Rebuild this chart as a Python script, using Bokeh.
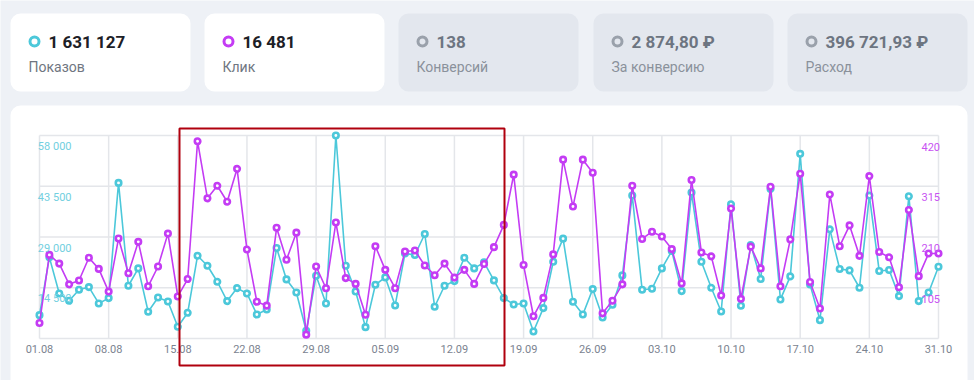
import pandas as pd
from bokeh.plotting import figure
from bokeh.models import (Range1d, LinearAxis, FixedTicker, DatetimeTickFormatter,
                          BoxAnnotation, Label, ColumnDataSource)
from bokeh.embed import file_html
from bokeh.resources import INLINE

# ---------------- data ----------------
dates = pd.date_range("2024-08-01", "2024-10-31", freq="D")

impressions = [
    6677, 23180, 12878, 10779, 13927, 14690, 10016, 11542, 44452, 15072,
    20032, 7631, 11733, 10588, 3339, 7345, 23657, 20795, 16216, 10684,
    14404, 12878, 6868, 8299, 25851, 16884, 13164, 2194, 17933, 10016,
    58000, 20795, 13450, 3243, 15358, 17456, 9444, 24324, 23848, 29857,
    9062, 15072, 16407, 23084, 20032, 21749, 16598, 11542, 9730, 10016,
    2003, 8680, 21940, 28522, 10493, 6868, 14118, 6010, 9634, 18029,
    40827, 13927, 14213, 20032, 24992, 13545, 41686, 21940, 14499, 7727,
    38347, 9348, 26709, 16979, 42735, 11161, 17743, 52751, 15453, 5246,
    31192, 19841, 19460, 14499, 40827, 19269, 19555, 12114, 40636, 10684,
    13164, 20509,
]

clicks = [
    32, 173, 155, 112, 120, 167, 144, 97, 207, 135,
    200, 108, 149, 217, 87, 123, 408, 290, 316, 283,
    351, 184, 76, 68, 229, 163, 219, 8, 149, 104,
    240, 125, 113, 49, 191, 142, 104, 180, 182, 151,
    131, 155, 126, 142, 113, 154, 189, 235, 339, 152,
    46, 84, 174, 370, 273, 370, 343, 52, 78, 112,
    316, 206, 221, 211, 185, 114, 328, 178, 170, 89,
    269, 82, 190, 145, 314, 108, 205, 341, 117, 62,
    298, 191, 234, 171, 336, 179, 168, 106, 266, 129,
    176, 176,
]

imp_ticks = [14500, 29000, 43500, 58000]
imp_tick_labels = ["14 500", "29 000", "43 500", "58 000"]
clk_ticks = [105, 210, 315, 420]
week_dates = pd.date_range("2024-08-01", "2024-10-31", freq="7D")

card_values = ["1 631 127", "16 481", "138", "2 874,80 ₽", "396 721,93 ₽"]
card_names = ["Показов", "Клик", "Конверсий", "За конверсию", "Расход"]
card_active = [True, True, False, False, False]

# ---------------- style / layout ----------------
CYAN = "#4cc8da"
MAG = "#c43cf4"
CYAN_LBL = "#72cfe0"
MAG_LBL = "#c853f2"
GRID = "#e4e6ea"
BG = "#eef1f6"
CARD_GRAY = "#e3e7ee"
AX_TXT = "#7b8390"
FONT = "Roboto"

W, H = 974, 380
X0, X1 = 39, 938          # first / last day (px)
Y0, YTOP = 338, 135       # value 0 / top tick (px)
LBL_SHIFT = 11


def ms(ts):
    return ts.value / 1e6


x0, x1 = ms(dates[0]), ms(dates[-1])
dpx = (x1 - x0) / (X1 - X0)
x_range = Range1d(x0 - X0 * dpx, x1 + (W - X1) * dpx)

imp_max, clk_max = imp_ticks[-1], clk_ticks[-1]
ipx = imp_max / (Y0 - YTOP)
cpx = clk_max / (Y0 - YTOP)
y_range = Range1d(-(H - Y0) * ipx, imp_max + YTOP * ipx)
clk_range = Range1d(-(H - Y0) * cpx, clk_max + YTOP * cpx)
imp_lbl = Range1d(y_range.start + LBL_SHIFT * ipx, y_range.end + LBL_SHIFT * ipx)
clk_lbl = Range1d(clk_range.start + LBL_SHIFT * cpx, clk_range.end + LBL_SHIFT * cpx)

p = figure(width=W, height=H, x_axis_type="datetime", x_range=x_range, y_range=y_range,
           y_axis_location=None, output_backend="svg", toolbar_location=None,
           min_border=0, min_border_left=0, min_border_right=0,
           min_border_top=0, min_border_bottom=0,
           border_fill_color=BG, background_fill_color=BG,
           outline_line_color=None)
p.grid.visible = False

p.extra_y_ranges = {"clk": clk_range, "imp_lbl": imp_lbl, "clk_lbl": clk_lbl,
                    "py": Range1d(H, 0)}
p.extra_x_ranges = {"px": Range1d(0, W)}


def box(l, r, t, b, **kw):
    kw.setdefault("line_color", None)
    kw.setdefault("fill_alpha", 1)
    kw.setdefault("line_alpha", 1)
    return BoxAnnotation(left=l, right=r, top=t, bottom=b,
                         x_range_name="px", y_range_name="py", **kw)


# white chart panel (below everything)
p.add_layout(box(10, 967, 105, H + 20, fill_color="white",
                 border_radius=(10, 10, 0, 0), level="image"))

# grid lines, bounded to the data area
week_ms = [ms(d) for d in week_dates]
hlev = [0] + imp_ticks
grid_src_h = ColumnDataSource(dict(xa=[dates[0]] * len(hlev), xb=[dates[-1]] * len(hlev),
                                   y=hlev))
grid_src_v = ColumnDataSource(dict(x=list(week_dates), ya=[0] * len(week_dates),
                                   yb=[imp_max] * len(week_dates)))
p.segment(x0="xa", x1="xb", y0="y", y1="y", source=grid_src_h,
          line_color=GRID, line_width=1.5, level="underlay")
p.segment(x0="x", x1="x", y0="ya", y1="yb", source=grid_src_v,
          line_color=GRID, line_width=1.5, level="underlay")

# axes
xa = p.xaxis[0]
xa.ticker = FixedTicker(ticks=week_ms)
xa.formatter = DatetimeTickFormatter(days="%d.%m", months="%d.%m", years="%d.%m",
                                     hours="%d.%m")
xa.axis_line_color = None
xa.major_tick_line_color = None
xa.minor_tick_line_color = None
xa.major_tick_out = 0
xa.major_tick_in = 0
xa.major_label_standoff = -36
xa.major_label_text_font = FONT
xa.major_label_text_font_size = "11px"
xa.major_label_text_color = AX_TXT

la = LinearAxis(y_range_name="imp_lbl", ticker=FixedTicker(ticks=imp_ticks),
                major_label_overrides=dict(zip(imp_ticks, imp_tick_labels)),
                axis_line_color=None, major_tick_line_color=None,
                minor_tick_line_color=None, major_tick_out=0, major_tick_in=0,
                major_label_standoff=-71, major_label_text_font=FONT,
                major_label_text_font_size="11px", major_label_text_color=CYAN_LBL)
p.add_layout(la, "left")
ra = LinearAxis(y_range_name="clk_lbl", ticker=FixedTicker(ticks=clk_ticks),
                axis_line_color=None, major_tick_line_color=None,
                minor_tick_line_color=None, major_tick_out=0, major_tick_in=0,
                major_label_standoff=-53, major_label_text_font=FONT,
                major_label_text_font_size="11px", major_label_text_color=MAG_LBL)
p.add_layout(ra, "right")

# series
src = ColumnDataSource(dict(date=dates, imp=impressions, clk=clicks))
p.line("date", "imp", source=src, line_color=CYAN, line_width=1.6)
p.scatter("date", "imp", source=src, size=5.5, line_width=2.6,
          line_color=CYAN, fill_color="white")
p.line("date", "clk", source=src, y_range_name="clk", line_color=MAG, line_width=1.6)
p.scatter("date", "clk", source=src, y_range_name="clk", size=5.5, line_width=2.6,
          line_color=MAG, fill_color="white")

# summary cards
card_lefts = [10, 204, 398, 593, 787]
icon_colors = [CYAN, MAG, "#9aa1ab", "#9aa1ab", "#9aa1ab"]
for cl, val, name, act, ic in zip(card_lefts, card_values, card_names, card_active, icon_colors):
    p.add_layout(box(cl, cl + 180, 13, 91, fill_color="white" if act else CARD_GRAY,
                     border_radius=10))
    p.add_layout(box(cl + 19.5, cl + 28.5, 36.5, 45.5, fill_color=None, fill_alpha=0,
                     line_color=ic, line_width=3, border_radius=5))
    p.add_layout(Label(x=cl + 38, y=41, text=val, x_range_name="px", y_range_name="py",
                       text_baseline="middle", text_align="left", text_font=FONT,
                       text_font_size="17px", text_font_style="bold",
                       text_color="#1d2026" if act else "#6d7581"))
    p.add_layout(Label(x=cl + 18, y=66, text=name, x_range_name="px", y_range_name="py",
                       text_baseline="middle", text_align="left", text_font=FONT,
                       text_font_size="14px",
                       text_color="#6f7681" if act else "#8a919b"))

# highlight frame
p.add_layout(box(179, 504, 128, 365, fill_color=None, fill_alpha=0,
                 line_color="#b0000e", line_width=2, level="overlay"))

open("out.html", "w").write(file_html(p, INLINE, title="chart"))
